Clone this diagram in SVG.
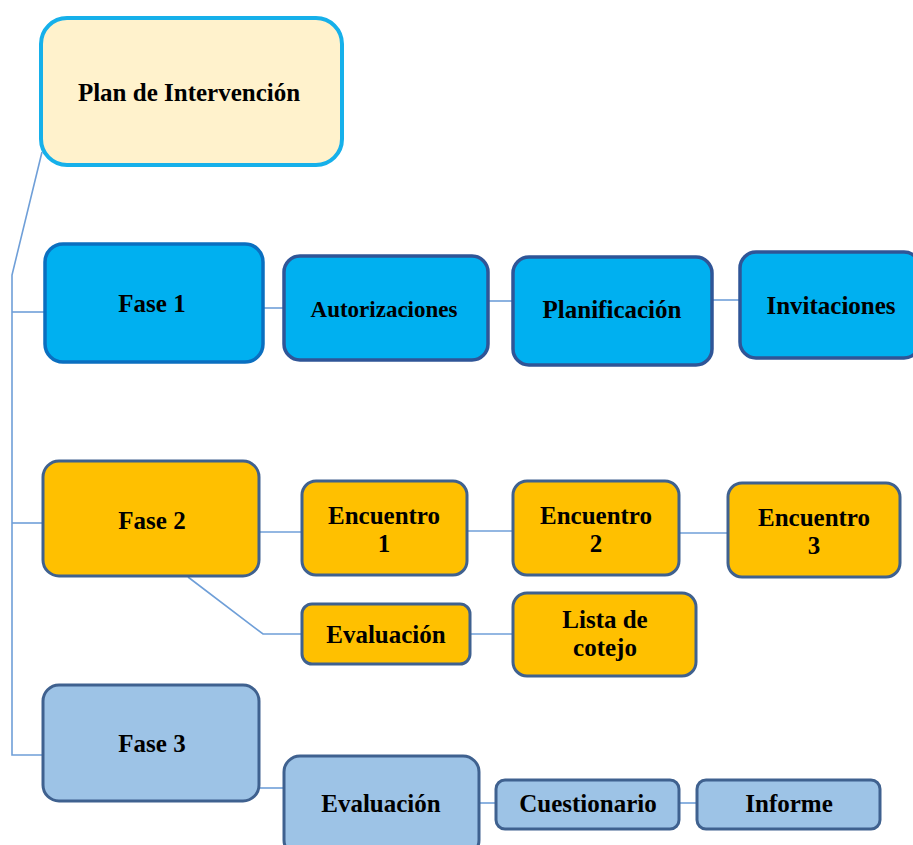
<svg xmlns="http://www.w3.org/2000/svg" width="913" height="845" viewBox="0 0 913 845">
<style>
text{font-family:"Liberation Serif","Times New Roman",serif;font-weight:bold;font-size:25px;fill:#000;text-anchor:middle}
.conn line,.conn polyline{stroke:#6f9fd8;stroke-width:1.6;fill:none}
.f1{fill:#00b0f0;stroke:#0a6fc0;stroke-width:3.5}
.b1{fill:#00b0f0;stroke:#2f5597;stroke-width:3.5}
.f2{fill:#ffc000;stroke:#3f618f;stroke-width:3}
.f3{fill:#9dc3e6;stroke:#3f618f;stroke-width:3}
</style>
<rect width="913" height="845" fill="#fff"/>
<g class="conn">
<polyline points="42,152 12,275 12,755 42,755"/>
<line x1="12" y1="312" x2="44" y2="312"/>
<line x1="12" y1="523" x2="42" y2="523"/>
<line x1="264" y1="308" x2="283" y2="308"/>
<line x1="489" y1="301" x2="512" y2="301"/>
<line x1="713" y1="300" x2="739" y2="300"/>
<line x1="260" y1="532" x2="301" y2="532"/>
<line x1="468" y1="531" x2="512" y2="531"/>
<line x1="680" y1="533" x2="727" y2="533"/>
<polyline points="188,577 263,634 301,634"/>
<line x1="471" y1="634" x2="512" y2="634"/>
<line x1="260" y1="788" x2="283" y2="788"/>
<line x1="480" y1="803" x2="495" y2="803"/>
<line x1="680" y1="803" x2="696" y2="803"/>
</g>
<g id="plan"><rect x="41" y="18" width="301" height="147" rx="26" fill="#fff2cc" stroke="#16b0ea" stroke-width="4"/><text x="189" y="101">Plan de Intervención</text></g>
<g id="fase1"><rect x="45" y="244" width="218" height="118" rx="18" class="f1"/><text x="152" y="312">Fase 1</text></g>
<g id="autorizaciones"><rect x="284" y="256" width="204" height="104" rx="16" class="b1"/><text x="384" y="317" font-size="23" style="font-size:23px">Autorizaciones</text></g>
<g id="planificacion"><rect x="513" y="257" width="199" height="108" rx="16" class="b1"/><text x="612" y="318">Planificación</text></g>
<g id="invitaciones"><rect x="740" y="252" width="180" height="106" rx="16" class="b1"/><text x="831" y="314">Invitaciones</text></g>
<g id="fase2"><rect x="43" y="461" width="216" height="115" rx="16" class="f2"/><text x="152" y="529">Fase 2</text></g>
<g id="encuentro1"><rect x="302" y="481" width="165" height="94" rx="14" class="f2"/><text x="384" y="524">Encuentro</text><text x="384" y="552">1</text></g>
<g id="encuentro2"><rect x="513" y="481" width="166" height="94" rx="14" class="f2"/><text x="596" y="524">Encuentro</text><text x="596" y="552">2</text></g>
<g id="encuentro3"><rect x="728" y="483" width="172" height="94" rx="14" class="f2"/><text x="814" y="526">Encuentro</text><text x="814" y="554">3</text></g>
<g id="evaluacion2"><rect x="302" y="604" width="168" height="60" rx="10" class="f2"/><text x="386" y="643">Evaluación</text></g>
<g id="lista"><rect x="513" y="593" width="183" height="83" rx="14" class="f2"/><text x="605" y="628">Lista de</text><text x="605" y="656">cotejo</text></g>
<g id="fase3"><rect x="43" y="685" width="216" height="116" rx="16" class="f3"/><text x="152" y="752">Fase 3</text></g>
<g id="evaluacion3"><rect x="284" y="756" width="195" height="100" rx="16" class="f3"/><text x="381" y="812">Evaluación</text></g>
<g id="cuestionario"><rect x="496" y="780" width="183" height="49" rx="9" class="f3"/><text x="588" y="812">Cuestionario</text></g>
<g id="informe"><rect x="697" y="780" width="183" height="49" rx="9" class="f3"/><text x="789" y="812">Informe</text></g>
</svg>
